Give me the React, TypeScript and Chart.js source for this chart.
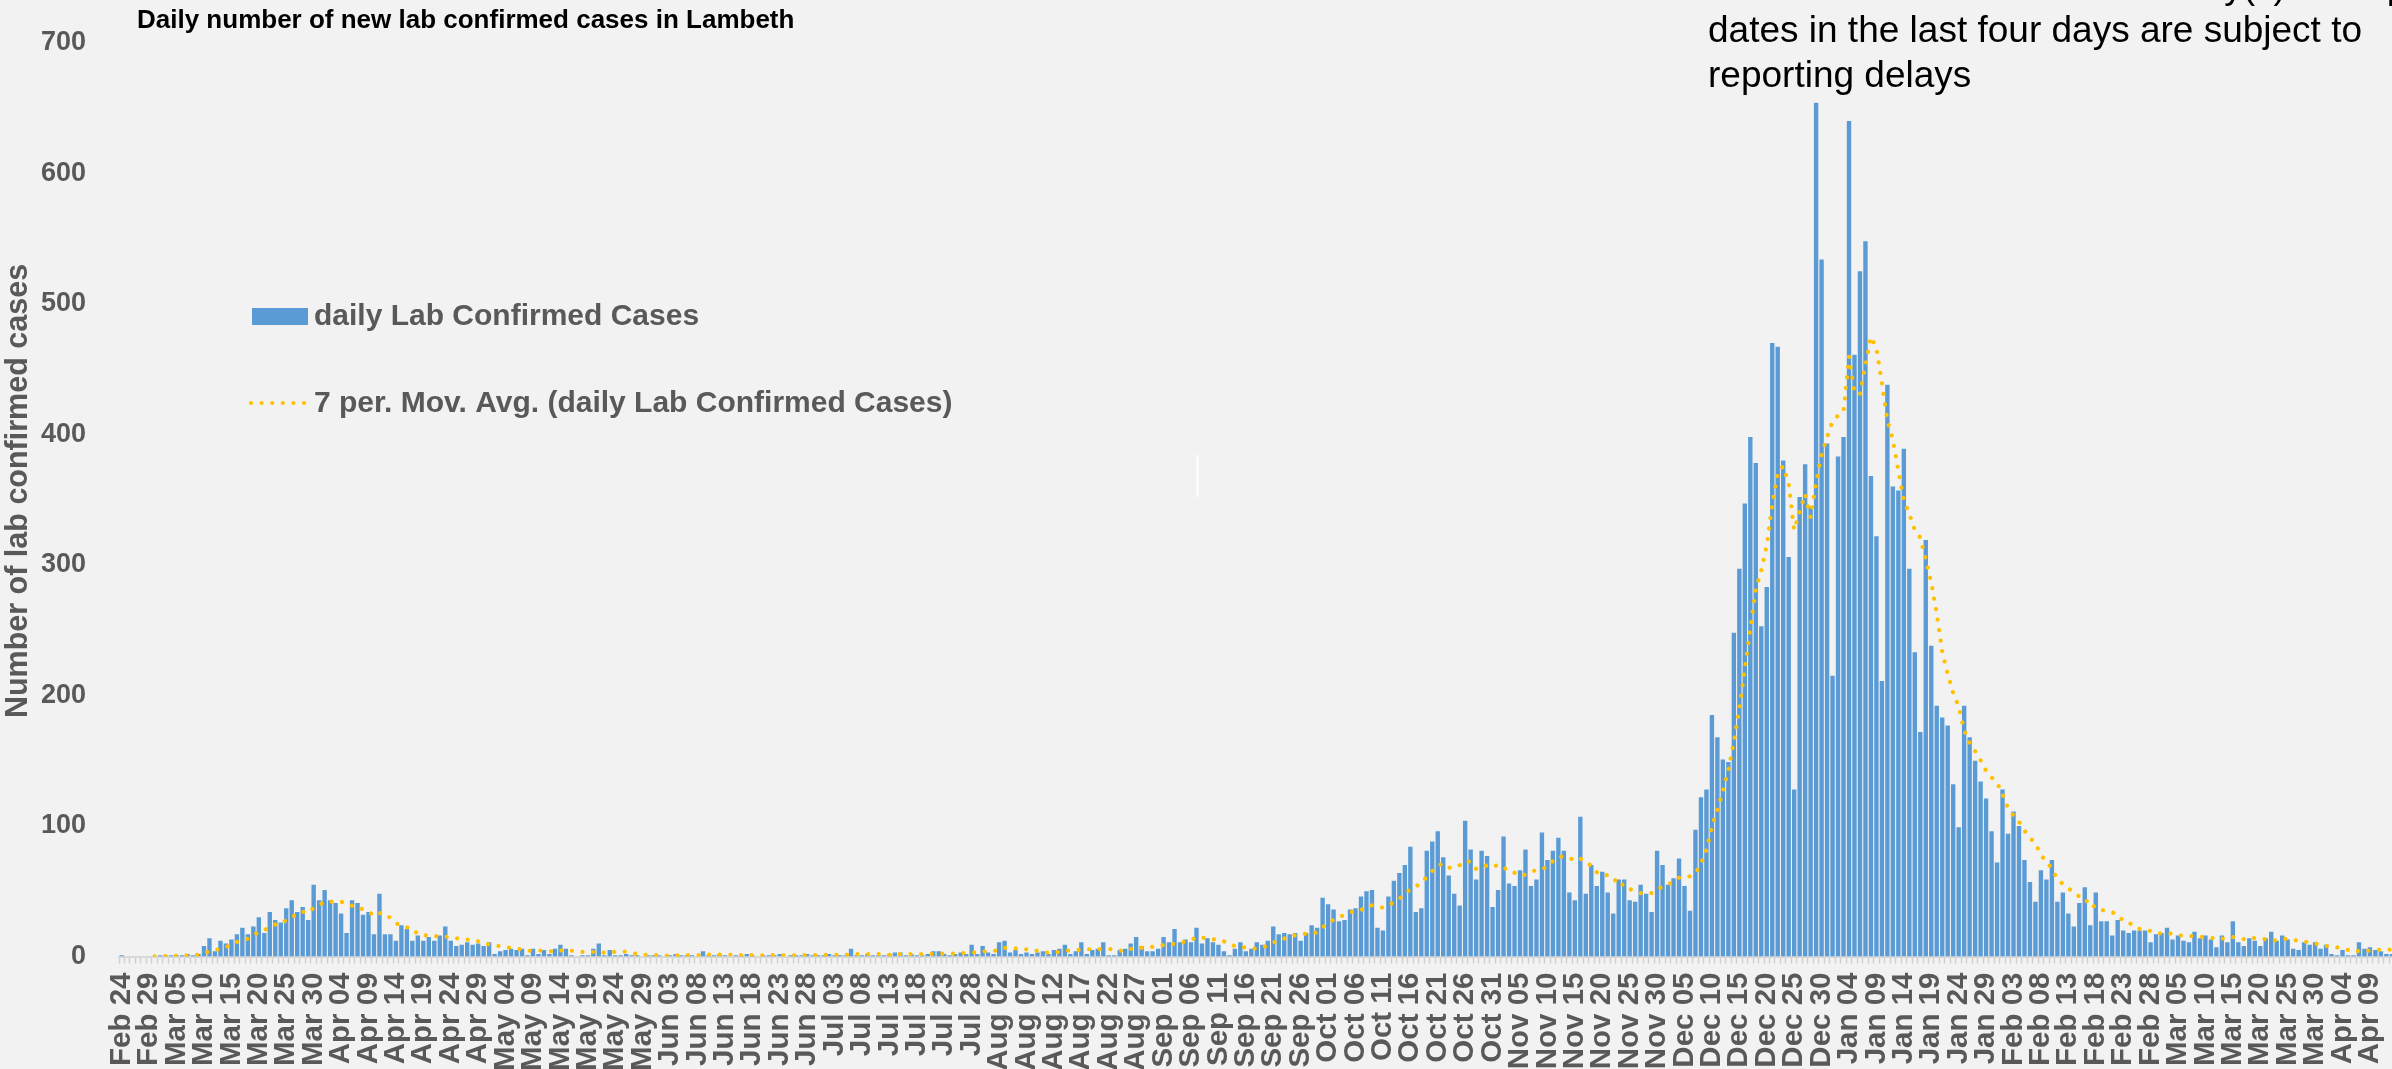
import React, { useEffect, useRef } from 'react';
import { Chart, registerables } from 'chart.js';

Chart.register(...registerables);

// ---- categories: consecutive days from Feb 24 2020 ----
const START_DATE = '2020-02-24';
const MONTH_NAMES = ['Jan', 'Feb', 'Mar', 'Apr', 'May', 'Jun', 'Jul', 'Aug', 'Sep', 'Oct', 'Nov', 'Dec'];
const LABEL_EVERY = 5;

// ---- daily lab confirmed cases, by month ----
const feb2020 = [1, 0, 0, 0, 0, 0];
const mar2020 = [0, 1, 1, 1, 1, 1, 2, 1, 2, 8, 14, 4, 12, 10, 13, 17, 22, 17, 23, 30, 18, 34, 28, 26, 37, 43, 34, 38, 28, 55, 43];
const apr2020 = [51, 43, 41, 33, 18, 43, 41, 32, 34, 17, 48, 17, 17, 12, 24, 21, 12, 16, 12, 15, 12, 16, 23, 12, 8, 9, 11, 9, 10, 8];
const may2020 = [11, 2, 4, 5, 6, 5, 6, 1, 6, 2, 5, 2, 6, 9, 6, 1, 0, 1, 1, 6, 10, 1, 5, 1, 1, 2, 1, 1, 0, 1, 1];
const jun2020 = [1, 0, 1, 2, 1, 1, 1, 0, 4, 1, 1, 2, 1, 0, 1, 1, 2, 1, 0, 1, 1, 1, 2, 0, 1, 1, 1, 2, 1, 1];
const jul2020 = [1, 2, 1, 1, 1, 6, 1, 1, 2, 1, 1, 1, 2, 3, 3, 1, 2, 1, 1, 2, 4, 4, 2, 1, 2, 3, 2, 9, 2, 8, 3];
const aug2020 = [2, 11, 12, 3, 5, 2, 3, 2, 3, 4, 2, 5, 6, 9, 2, 4, 11, 2, 5, 6, 11, 1, 1, 5, 6, 10, 15, 8, 4, 4, 6];
const sep2020 = [15, 11, 21, 11, 13, 11, 22, 10, 14, 11, 9, 4, 1, 6, 11, 4, 6, 11, 9, 12, 23, 17, 18, 17, 18, 12, 18, 24, 22, 45];
const oct2020 = [40, 36, 27, 28, 36, 37, 46, 50, 51, 22, 20, 46, 58, 64, 70, 84, 34, 37, 81, 88, 96, 76, 62, 48, 39, 104, 82, 59, 81, 77, 38];
const nov2020 = [51, 92, 56, 54, 66, 82, 54, 59, 95, 74, 81, 91, 81, 49, 43, 107, 48, 70, 54, 65, 49, 33, 59, 59, 43, 42, 55, 48, 34, 81];
const dec2020 = [70, 55, 60, 75, 54, 35, 97, 122, 128, 185, 168, 151, 149, 248, 297, 347, 398, 378, 253, 283, 470, 467, 380, 306, 128, 352, 377, 345, 654, 534, 393];
const jan2021 = [215, 383, 398, 640, 461, 525, 548, 368, 322, 211, 438, 360, 357, 389, 297, 233, 172, 319, 238, 192, 183, 177, 132, 99, 192, 168, 150, 134, 121, 96, 72];
const feb2021 = [128, 94, 111, 100, 74, 57, 42, 66, 59, 74, 42, 49, 33, 23, 41, 53, 24, 49, 27, 27, 16, 28, 20, 18, 20, 20, 20, 11];
const mar2021 = [17, 18, 22, 13, 16, 12, 11, 19, 14, 16, 13, 7, 16, 11, 27, 11, 8, 14, 12, 8, 14, 19, 12, 16, 13, 6, 5, 11, 9, 11, 6];
const apr2021 = [9, 2, 1, 5, 1, 1, 11, 6, 7, 5, 4, 2, 2];

const dailyCases: number[] = [
  ...feb2020, ...mar2020, ...apr2020, ...may2020, ...jun2020, ...jul2020, ...aug2020,
  ...sep2020, ...oct2020, ...nov2020, ...dec2020, ...jan2021, ...feb2021, ...mar2021, ...apr2021,
];

// ---- y axis ----
const Y_MIN = 0;
const Y_MAX = 700;
const Y_STEP = 100;

// ---- texts ----
const TITLE = 'Daily number of new lab confirmed cases in Lambeth';
const Y_TITLE = 'Number of lab confirmed cases';
const BAR_LABEL = 'daily Lab Confirmed Cases';
const MA_LABEL = '7 per. Mov. Avg. (daily Lab Confirmed Cases)';
const NOTE_LINES = [
  'The data for the most recent day(s) and specimen',
  'dates in the last four days are subject to',
  'reporting delays',
];
const MA_PERIOD = 7;

function buildLabels(n: number): string[] {
  const out: string[] = [];
  const d = new Date(START_DATE + 'T00:00:00Z');
  for (let i = 0; i < n; i++) {
    out.push(MONTH_NAMES[d.getUTCMonth()] + ' ' + String(d.getUTCDate()).padStart(2, '0'));
    d.setUTCDate(d.getUTCDate() + 1);
  }
  return out;
}

function movingAverage(values: number[], period: number): (number | null)[] {
  return values.map((_, i) => {
    if (i < period - 1) return null;
    let s = 0;
    for (let k = i - period + 1; k <= i; k++) s += values[k];
    return s / period;
  });
}

const FONT = "'Liberation Sans', Arial, sans-serif";
const GRAY = '#595959';
const BLUE = '#5B9BD5';
const GOLD = '#FFC000';
const BG = '#F2F2F2';

const W = 2400;
const H = 1110;
const PLOT_LEFT = 119;
const PLOT_TOP = 42.7;
const PLOT_BOTTOM = 956.5;
const PLOT_RIGHT = 2394.6;
const DOT_DASH = [0.01, 10.6];

export default function App() {
  const canvasRef = useRef<HTMLCanvasElement | null>(null);

  useEffect(() => {
    document.documentElement.style.overflow = 'hidden';
    document.body.style.overflow = 'hidden';
    document.body.style.margin = '0';
    document.body.style.background = BG;

    const labels = buildLabels(dailyCases.length);
    const ma = movingAverage(dailyCases, MA_PERIOD);

    const decorPlugin = {
      id: 'decor',
      afterDraw(chart: any) {
        const ctx = chart.ctx as CanvasRenderingContext2D;
        ctx.save();
        // title
        ctx.fillStyle = '#000000';
        ctx.font = `bold 26px ${FONT}`;
        ctx.textAlign = 'left';
        ctx.textBaseline = 'alphabetic';
        ctx.fillText(TITLE, 137, 28);

        // note (top right)
        ctx.font = `37px ${FONT}`;
        const noteBase = [-2, 42, 87];
        NOTE_LINES.forEach((t, k) => ctx.fillText(t, 1708, noteBase[k]));

        // y axis title
        ctx.save();
        ctx.translate(19, 491);
        ctx.rotate(-Math.PI / 2);
        ctx.fillStyle = GRAY;
        ctx.font = `bold 30.5px ${FONT}`;
        ctx.textAlign = 'center';
        ctx.textBaseline = 'middle';
        ctx.fillText(Y_TITLE, 0, 0);
        ctx.restore();

        // legend
        ctx.fillStyle = BLUE;
        ctx.fillRect(252, 308, 56, 17);
        ctx.fillStyle = GRAY;
        ctx.font = `bold 30px ${FONT}`;
        ctx.textAlign = 'left';
        ctx.textBaseline = 'middle';
        ctx.fillText(BAR_LABEL, 314, 317);
        ctx.fillText(MA_LABEL, 314, 404);

        ctx.strokeStyle = GOLD;
        ctx.lineWidth = 4.2;
        ctx.lineCap = 'round';
        ctx.setLineDash(DOT_DASH);
        ctx.beginPath();
        ctx.moveTo(251, 403);
        ctx.lineTo(307, 403);
        ctx.stroke();
        ctx.setLineDash([]);

        // small white mark in the plot
        ctx.fillStyle = '#FFFFFF';
        ctx.fillRect(1196.5, 455, 2, 42);
        ctx.restore();
      },
    };

    const chart = new Chart(canvasRef.current as HTMLCanvasElement, {
      type: 'bar',
      data: {
        labels,
        datasets: [
          {
            type: 'line',
            label: MA_LABEL,
            data: ma,
            borderColor: GOLD,
            borderWidth: 4.2,
            borderDash: DOT_DASH,
            borderCapStyle: 'round',
            pointRadius: 0,
            fill: false,
            tension: 0,
            order: 1,
          } as any,
          {
            type: 'bar',
            label: BAR_LABEL,
            data: dailyCases,
            backgroundColor: BLUE,
            categoryPercentage: 1,
            barPercentage: 0.8,
            order: 2,
          } as any,
        ],
      },
      options: {
        responsive: false,
        animation: false,
        events: [],
        layout: {
          padding: { left: 0, top: PLOT_TOP, right: W - PLOT_RIGHT, bottom: 0 },
        },
        plugins: {
          legend: { display: false },
          tooltip: { enabled: false },
          title: { display: false },
        },
        scales: {
          x: {
            type: 'category',
            offset: true,
            grid: {
              display: true,
              drawOnChartArea: false,
              drawTicks: true,
              tickLength: 7,
              tickColor: '#D0D0D0',
              tickWidth: 1.5,
              offset: true,
            },
            border: { display: true, color: '#D9D9D9', width: 2 },
            ticks: {
              autoSkip: false,
              minRotation: 90,
              maxRotation: 90,
              padding: 9,
              color: GRAY,
              font: { family: FONT, size: 29.5, weight: 'bold' },
              callback: (_v: any, index: number) => (index % LABEL_EVERY === 0 ? labels[index] : ''),
            },
            afterFit: (scale: any) => {
              scale.height = H - PLOT_BOTTOM;
              scale.paddingLeft = 0;
              scale.paddingRight = 0;
            },
          },
          y: {
            min: Y_MIN,
            max: Y_MAX,
            grid: { display: false },
            border: { display: false },
            ticks: {
              stepSize: Y_STEP,
              padding: 25,
              color: GRAY,
              font: { family: FONT, size: 27, weight: 'bold' },
            },
            title: { display: false },
            afterFit: (scale: any) => {
              scale.width = PLOT_LEFT;
              scale.paddingTop = 0;
              scale.paddingBottom = 0;
            },
          },
        },
      } as any,
      plugins: [decorPlugin],
    });

    return () => chart.destroy();
  }, []);

  return (
    <div style={{ position: 'fixed', left: 0, top: 0, width: W, height: H, background: BG, overflow: 'hidden' }}>
      <canvas ref={canvasRef} width={W} height={H} style={{ width: W, height: H, display: 'block' }} />
    </div>
  );
}
